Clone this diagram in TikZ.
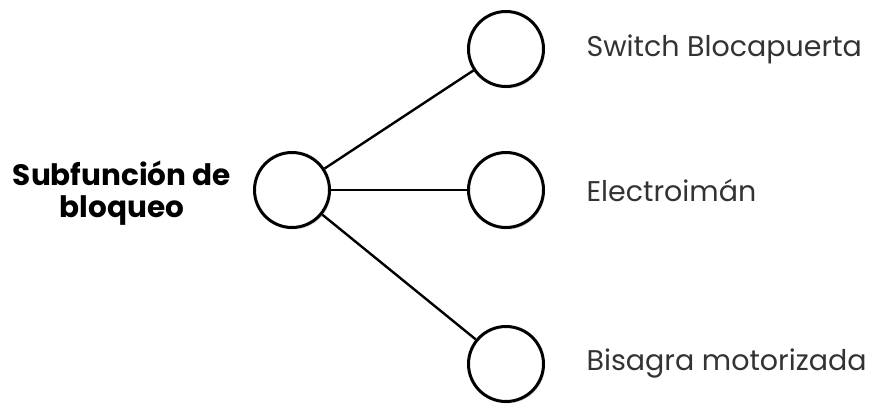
\documentclass[tikz,border=0pt]{standalone}
\usepackage{fontspec}
\setmainfont{Poppins}
\usetikzlibrary{positioning,shadows}

\begin{document}
\begin{tikzpicture}[x=1pt, y=-1pt,
    every node/.style={font=\fontsize{28.5}{32}\selectfont},
    blob/.style={circle, draw=black, line width=3pt, fill=white, minimum size=75pt, inner sep=0pt,
        drop shadow={shadow xshift=1.5pt, shadow yshift=-2pt, opacity=0.25}},
    link/.style={line width=2.4pt, draw=black},
    leaf/.style={right=38pt, anchor=west, text=black!80}]

    % Canvas with the reference margins
    \useasboundingbox (0,0) rectangle (881,404);

    % Root of the tree
    \node[blob] (root) at (292,190) {};
    \node[align=center, font=\fontsize{29.5}{32}\selectfont\bfseries] (rootlabel) at (122,193) {Subfunción de\\bloqueo};

    % Leaves
    \node[blob] (switch) at (506,49) {};
    \node[blob] (iman) at (506,190) {};
    \node[blob] (bisagra) at (506,364) {};

    \node[leaf] at (switch.east) {Switch Blocapuerta};
    \node[leaf] at (iman.east) {Electroimán};
    \node[leaf] at (bisagra.east) {Bisagra motorizada};

    % Branches
    \draw[link] (root) -- (switch);
    \draw[link] (root) -- (iman);
    \draw[link] (root) -- (bisagra);

\end{tikzpicture}
\end{document}
